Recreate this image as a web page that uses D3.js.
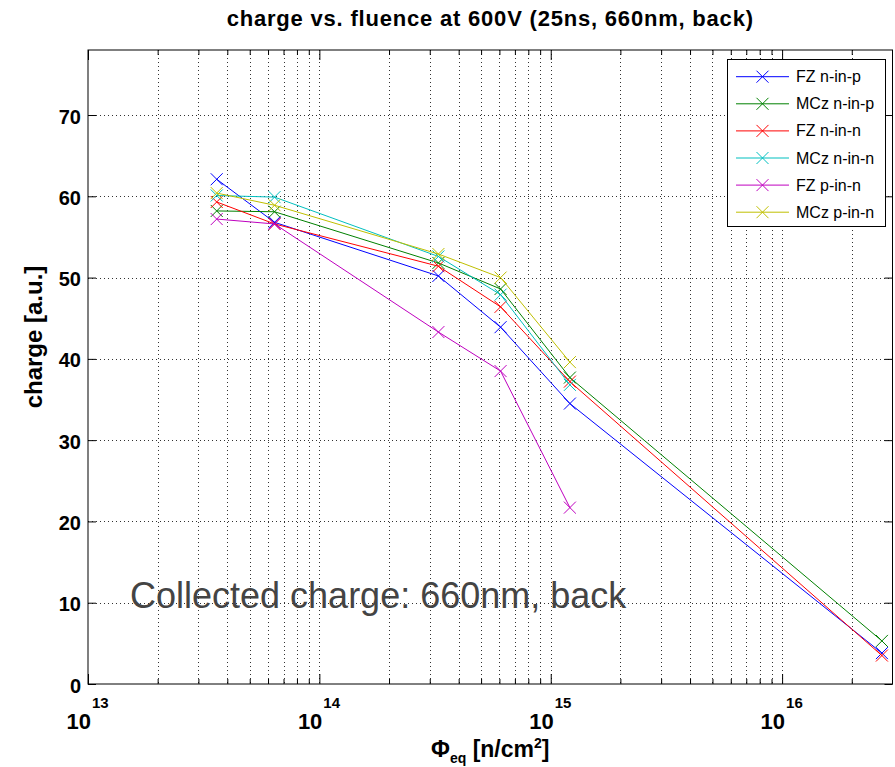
<!DOCTYPE html>
<html><head><meta charset="utf-8">
<script src="https://cdn.jsdelivr.net/npm/d3@7"></script>
<style>body{margin:0;background:#fff}svg{display:block}</style>
</head><body>
<svg id="c" width="895" height="767"></svg>
<script>
// ---- data ----
const fluence = [3.6e13, 6.4e13, 3.27e14, 6.07e14, 1.21e15, 2.7e16];
const seriesNames = ["FZ n-in-p", "MCz n-in-p", "FZ n-in-n", "MCz n-in-n", "FZ p-in-n", "MCz p-in-n"];
const seriesColors = ["#0000ff", "#008000", "#ff0000", "#00bfbf", "#bf00bf", "#bfbf00"];
const fzNinP  = [62.1, 56.8, 50.2, 43.9, 34.5, 3.8];
const mczNinP = [58.2, 58.1, 51.8, 48.6, 37.7, 5.3];
const fzNinN  = [59.3, 56.6, 51.4, 46.4, 37.2, 3.5];
const mczNinN = [60.1, 59.9, 52.6, 47.9, 36.8];
const fzPinN  = [57.2, 56.6, 43.3, 38.5, 21.7];
const mczPinN = [60.4, 58.9, 52.9, 50.0, 39.6];
const seriesValues = [fzNinP, mczNinP, fzNinN, mczNinN, fzPinN, mczPinN];
const yTicks = [0, 10, 20, 30, 40, 50, 60, 70];
const xDecades = [13, 14, 15, 16];
const titleText = "charge vs. fluence at 600V (25ns, 660nm, back)";
const annotation = "Collected charge: 660nm, back";

// ---- layout ----
const L = 88, R = 892.5, T = 50, B = 684;
const FONT = "'Liberation Sans', Arial, Helvetica, sans-serif";
const svg = d3.select("#c").style("font-family", FONT);

const x = d3.scaleLog().domain([1e13, 3e16]).range([L, R]);
const y = d3.scaleLinear().domain([0, 78]).range([B, T]);

const minor = [];
xDecades.forEach(d => { for (let k = 2; k <= 9; k++) { const v = k * Math.pow(10, d); if (v < 3e16) minor.push(v); } });
const major = xDecades.map(d => Math.pow(10, d));

const grid = svg.append("g").attr("stroke", "#000").attr("stroke-width", 1)
  .attr("stroke-dasharray", "1,3").attr("opacity", 0.8);
grid.selectAll(".gx").data(major.concat(minor).filter(v => v > 1e13)).enter().append("line")
  .attr("x1", d => Math.round(x(d)) + 0.5).attr("x2", d => Math.round(x(d)) + 0.5)
  .attr("y1", T).attr("y2", B);
grid.selectAll(".gy").data(yTicks.filter(v => v > 0)).enter().append("line")
  .attr("x1", L).attr("x2", R)
  .attr("y1", d => Math.round(y(d)) + 0.5).attr("y2", d => Math.round(y(d)) + 0.5);

const axB = d3.axisBottom(x).tickValues(major).tickSize(-10).tickFormat("");
const axT = d3.axisTop(x).tickValues(major).tickSize(-10).tickFormat("");
const axBm = d3.axisBottom(x).tickValues(minor).tickSize(-5).tickFormat("");
const axTm = d3.axisTop(x).tickValues(minor).tickSize(-5).tickFormat("");
const axL = d3.axisLeft(y).tickValues(yTicks).tickSize(-8).tickFormat("");
const axR = d3.axisRight(y).tickValues(yTicks).tickSize(-8).tickFormat("");
[[axB, `translate(0,${B})`], [axBm, `translate(0,${B})`], [axT, `translate(0,${T})`], [axTm, `translate(0,${T})`],
 [axL, `translate(${L},0)`], [axR, `translate(${R},0)`]].forEach(([a, tr]) => {
  const g = svg.append("g").attr("transform", tr).call(a);
  g.select(".domain").remove();
  g.selectAll("line").attr("stroke", "#000");
});
svg.append("rect").attr("x", L).attr("y", T).attr("width", R - L).attr("height", B - T)
  .attr("fill", "none").attr("stroke", "#000").attr("stroke-width", 1);

// y tick labels
svg.append("g").selectAll("text").data(yTicks).enter().append("text")
  .attr("x", L - 7).attr("y", d => y(d) + 8.5).attr("text-anchor", "end")
  .attr("font-size", 20).attr("font-weight", "bold").text(d => d);

// x tick labels: 10^n as separate texts
const xl = svg.append("g").attr("font-weight", "bold");
xDecades.forEach(d => {
  const px = x(Math.pow(10, d));
  xl.append("text").attr("x", px + 3).attr("y", 729).attr("text-anchor", "end")
    .attr("font-size", 22).text("10");
  xl.append("text").attr("x", px + 4).attr("y", 708).attr("text-anchor", "start")
    .attr("font-size", 15).text(String(d));
});

// axis labels
const xlab = svg.append("text").attr("x", (L + R) / 2).attr("y", 757).attr("text-anchor", "middle")
  .attr("font-weight", "bold").attr("font-size", 23);
xlab.append("tspan").text("\u03A6");
xlab.append("tspan").attr("font-size", 14).attr("dy", 6).text("eq");
xlab.append("tspan").attr("dy", -6).text(" [n/cm");
xlab.append("tspan").attr("font-size", 14).attr("dy", -9).text("2");
xlab.append("tspan").attr("dy", 9).text("]");

svg.append("text").attr("transform", `translate(42,337) rotate(-90)`).attr("text-anchor", "middle")
  .attr("font-weight", "bold").attr("font-size", 24).text("charge [a.u.]");

svg.append("text").attr("x", (L + R) / 2).attr("y", 26).attr("text-anchor", "middle")
  .attr("font-weight", "bold").attr("font-size", 22).attr("letter-spacing", 0.8).text(titleText);

svg.append("text").attr("x", 130).attr("y", 608).attr("font-size", 36).attr("fill", "#444")
  .text(annotation);

// series
const line = d3.line().x(d => x(d[0])).y(d => y(d[1]));
const M = 6;
seriesValues.forEach((vals, i) => {
  const pts = vals.map((v, j) => [fluence[j], v]);
  const g = svg.append("g").attr("stroke", seriesColors[i]).attr("fill", "none").attr("stroke-width", 1);
  g.append("path").attr("d", line(pts));
  g.selectAll("path.m").data(pts).enter().append("path").attr("class", "m")
    .attr("d", d => { const cx = x(d[0]), cy = y(d[1]);
      return `M${cx - M},${cy - M}L${cx + M},${cy + M}M${cx - M},${cy + M}L${cx + M},${cy - M}`; });
});

// legend
const lg = svg.append("g");
lg.append("rect").attr("x", 727.5).attr("y", 59.5).attr("width", 158).attr("height", 167)
  .attr("fill", "#fff").attr("stroke", "#000").attr("stroke-width", 1);
seriesNames.forEach((n, i) => {
  const yy = 76.7 + i * 27.1;
  const g = lg.append("g").attr("stroke", seriesColors[i]).attr("stroke-width", 1);
  g.append("line").attr("x1", 736).attr("x2", 789).attr("y1", yy).attr("y2", yy);
  g.append("path").attr("fill", "none")
    .attr("d", `M${762.5 - M},${yy - M}L${762.5 + M},${yy + M}M${762.5 - M},${yy + M}L${762.5 + M},${yy - M}`);
  lg.append("text").attr("x", 796).attr("y", yy + 5.5).attr("font-size", 16).text(n);
});
</script>
</body></html>
